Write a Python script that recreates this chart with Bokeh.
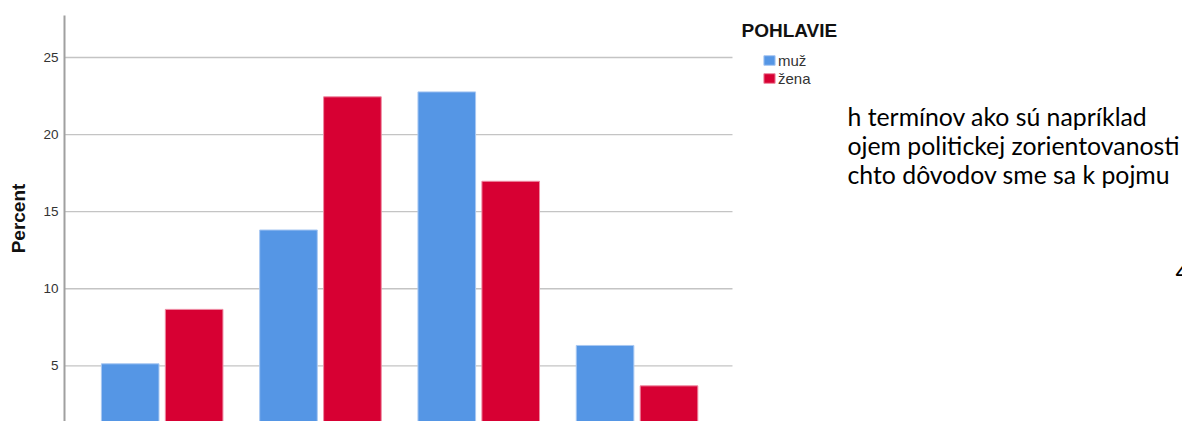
from bokeh.plotting import figure
from bokeh.models import ColumnDataSource, Range1d, Label, Legend, LegendItem, FixedTicker
from bokeh.transform import dodge
from bokeh.embed import file_html
from bokeh.resources import INLINE

# ---- data ----
groups = [1, 2, 3, 4]
muz = [5.13, 13.81, 22.77, 6.32]
zena = [8.66, 22.45, 16.97, 3.70]
y_ticks = [5, 10, 15, 20, 25]
legend_title = "POHLAVIE"
series_names = ["muž", "žena"]
doc_lines = ["h termínov ako sú napríklad",
             "ojem politickej zorientovanosti",
             "chto dôvodov sme sa k pojmu"]
page_number = "4"

BLUE = "#5596E5"
RED = "#D70033"

X0, X_CHART_END, X1 = 0.383, 4.603, 7.446

src = ColumnDataSource(dict(g=groups, muz=muz, zena=zena))
grid_src = ColumnDataSource(dict(y=y_ticks, x0=[X0] * len(y_ticks), x1=[X_CHART_END] * len(y_ticks)))

p = figure(width=1182, height=421, output_backend="svg", toolbar_location=None,
           x_range=Range1d(X0, X1), y_range=Range1d(1.387, 27.725),
           min_border_left=64, min_border_right=0, min_border_top=15, min_border_bottom=0)
p.outline_line_color = None
p.background_fill_color = "white"
p.border_fill_color = "white"

# gridlines limited to the chart area
p.xgrid.visible = False
p.ygrid.visible = False
p.segment(x0="x0", x1="x1", y0="y", y1="y", source=grid_src,
          line_color="#c4c4c4", line_width=1.3)

r1 = p.vbar(x=dodge("g", -0.202, range=p.x_range), top="muz", bottom=0, width=0.364,
            source=src, fill_color=BLUE, line_color="#a9c8f2", line_width=1)
r2 = p.vbar(x=dodge("g", 0.202, range=p.x_range), top="zena", bottom=0, width=0.364,
            source=src, fill_color=RED, line_color="#ee8aa2", line_width=1)

p.xaxis.visible = False

ya = p.yaxis[0]
ya.ticker = FixedTicker(ticks=y_ticks)
ya.axis_line_color = "#a0a0a0"
ya.axis_line_width = 2
ya.major_tick_line_color = None
ya.minor_tick_line_color = None
ya.major_tick_out = 0
ya.major_tick_in = 0
ya.major_label_standoff = 6
ya.major_label_text_font = "Liberation Sans"
ya.major_label_text_font_size = "13.5px"
ya.major_label_text_color = "#333333"
ya.axis_label = "Percent"
ya.axis_label_text_font = "Liberation Sans"
ya.axis_label_text_font_style = "bold"
ya.axis_label_text_font_size = "19px"
ya.axis_label_text_color = "#111111"
ya.axis_label_standoff = 11

# legend
p.add_layout(Label(x=677, y=391, x_units="screen", y_units="screen", text=legend_title,
                   text_font="Liberation Sans", text_font_style="bold",
                   text_font_size="19px", text_color="#111111", text_baseline="alphabetic"))
leg = Legend(items=[LegendItem(label=series_names[0], renderers=[r1]),
                    LegendItem(label=series_names[1], renderers=[r2])],
             location=(698, 334), orientation="vertical",
             glyph_width=14, glyph_height=12, label_height=18, label_standoff=2,
             spacing=0, padding=0, margin=0, border_line_color=None,
             background_fill_alpha=0,
             label_text_font="Liberation Sans", label_text_font_size="15px",
             label_text_color="#333333")
p.add_layout(leg, "center")

# document text visible behind the chart
bases = [305.5, 276.5, 247]
for t, yb in zip(doc_lines, bases):
    p.add_layout(Label(x=783, y=yb, x_units="screen", y_units="screen", text=t,
                       text_font="Lato", text_font_size="24.8px",
                       text_color="#000000", text_baseline="alphabetic"))
p.add_layout(Label(x=1111, y=150, x_units="screen", y_units="screen", text=page_number,
                   text_font="Lato", text_font_size="24.8px",
                   text_color="#000000", text_baseline="alphabetic"))

open("out.html", "w").write(file_html(p, INLINE))
